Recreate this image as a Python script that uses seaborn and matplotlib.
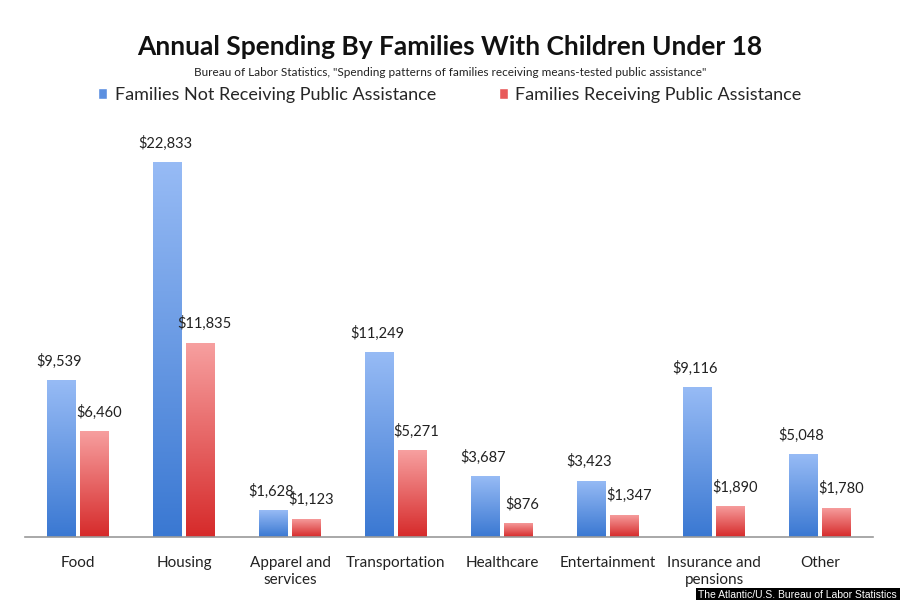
import numpy as np
import pandas as pd
import seaborn as sns
import matplotlib.pyplot as plt
from matplotlib.patches import Rectangle
from matplotlib.colors import LinearSegmentedColormap

categories = ["Food", "Housing", "Apparel and\nservices", "Transportation", "Healthcare",
              "Entertainment", "Insurance and\npensions", "Other"]
not_receiving = [9539, 22833, 1628, 11249, 3687, 3423, 9116, 5048]
receiving = [6460, 11835, 1123, 5271, 876, 1347, 1890, 1780]
series_names = ["Families Not Receiving Public Assistance", "Families Receiving Public Assistance"]

df = pd.DataFrame({
    "category": categories * 2,
    "value": not_receiving + receiving,
    "group": [series_names[0]] * len(categories) + [series_names[1]] * len(categories),
})

sns.set_style("white")
plt.rcParams['font.family'] = ['Lato', 'DejaVu Sans']

fig = plt.figure(figsize=(9, 6), dpi=100)
ax = fig.add_axes([25 / 900, 63 / 600, 848 / 900, 427 / 600])

blue = "#5b8fe0"
red = "#e85a5a"
sns.barplot(data=df, x="category", y="value", hue="group", palette=[blue, red],
            width=0.62, gap=0.14, ax=ax, legend=False, errorbar=None)

# gradient fill on each bar
grads = {
    blue: LinearSegmentedColormap.from_list("b", ["#3a78d2", "#97bbf5"]),
    red: LinearSegmentedColormap.from_list("r", ["#d62a2a", "#f7a0a0"]),
}
cols = [blue] * len(categories) + [red] * len(categories)
grad = np.linspace(0, 1, 256).reshape(-1, 1)
for p, c in zip(ax.patches, cols):
    x0, y0 = p.get_x(), p.get_y()
    w, h = p.get_width(), p.get_height()
    p.set_facecolor("none")
    p.set_edgecolor("none")
    im = ax.imshow(grad, cmap=grads[c], aspect="auto", origin="lower",
                   extent=[x0, x0 + w, y0, y0 + h], zorder=2)
    clip = Rectangle((x0, y0), w, h, transform=ax.transData)
    im.set_clip_path(clip)
    # red labels sit a touch to the right, like the original
    dx = 0.04 if c == red else -0.02
    ax.text(x0 + w / 2 + dx, h + 700, f"${int(h):,}", ha="center", va="bottom",
            fontsize=10.5, color="#222222")

ax.set_xlim(-0.5, len(categories) - 0.5)
ax.set_ylim(0, 26000)
ax.set_xlabel("")
ax.set_ylabel("")
ax.set_yticks([])
ax.tick_params(axis="x", length=0, pad=14, labelsize=11, labelcolor="#222222")
for s in ["top", "right", "left"]:
    ax.spines[s].set_visible(False)
ax.spines["bottom"].set_color("#9a9a9a")
ax.spines["bottom"].set_linewidth(1.2)

fig.text(0.5, 1 - 47 / 600, "Annual Spending By Families With Children Under 18",
         ha="center", va="center", fontsize=19, fontweight="bold", color="#111111")
fig.text(0.5, 1 - 72 / 600,
         'Bureau of Labor Statistics, "Spending patterns of families receiving means-tested public assistance"',
         ha="center", va="center", fontsize=8.5, color="#222222")

handles = [Rectangle((0, 0), 1, 1, facecolor=blue), Rectangle((0, 0), 1, 1, facecolor=red)]
fig.legend(handles, series_names, loc="center", bbox_to_anchor=(0.5, 1 - 95 / 600), ncol=2,
           frameon=False, fontsize=13, handlelength=0.5, handleheight=0.5,
           handletextpad=0.4, columnspacing=3.5)

fig.text(1.0, 0.0, "The Atlantic/U.S. Bureau of Labor Statistics ", ha="right", va="bottom",
         fontsize=7.5, color="white", family="Liberation Sans",
         bbox=dict(facecolor="black", edgecolor="none", pad=1.5))

fig.savefig("out.png", dpi=100)
